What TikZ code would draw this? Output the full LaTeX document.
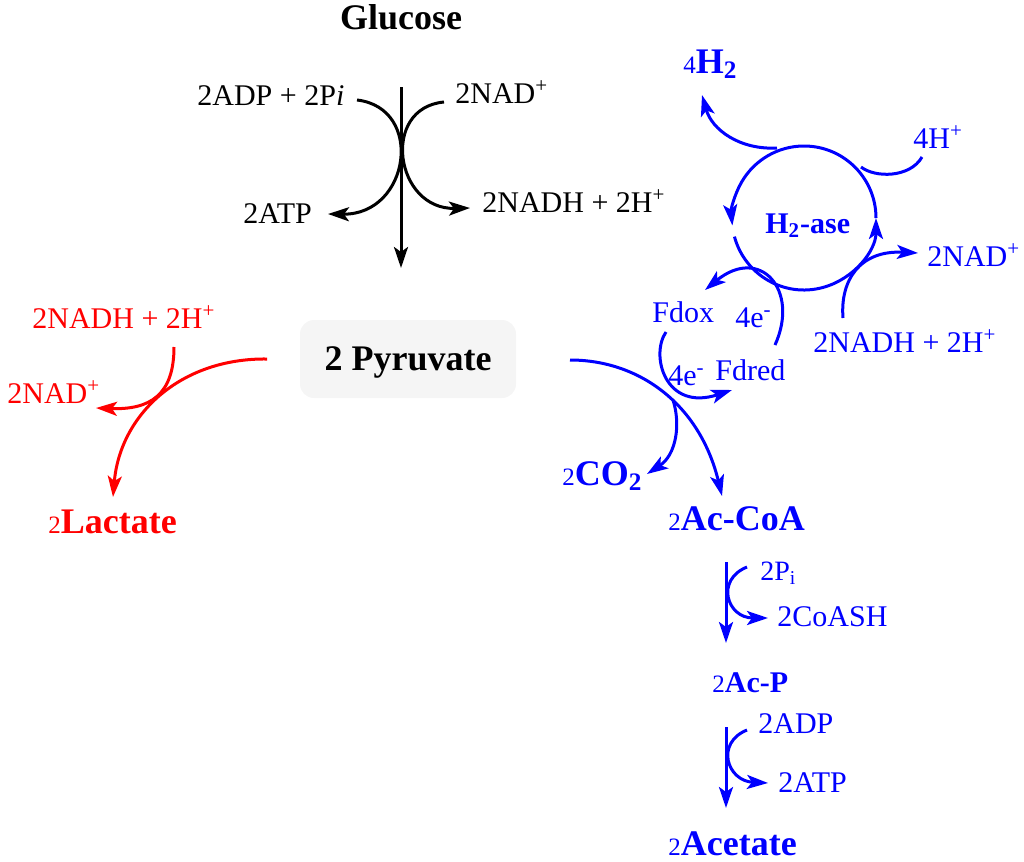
\documentclass[tikz,border=0pt]{standalone}
\usepackage{fontspec}
\setmainfont{Liberation Serif}
\usetikzlibrary{arrows.meta}
\newcommand{\coef}[1]{{\fontsize{12.5}{14}\selectfont\mdseries #1}}
\begin{document}
\begin{tikzpicture}[x=0.5pt, y=-0.5pt]
	\tikzset{lab/.style={inner sep=0pt, anchor=base west, font=\fontsize{15}{18}\selectfont},
	bl/.style={inner sep=0pt, anchor=base west, font=\fontsize{18}{21}\selectfont\bfseries},
	bm/.style={inner sep=0pt, anchor=base west, font=\fontsize{15}{18}\selectfont\bfseries},
	pbox/.style={rounded corners=7pt, fill=black!4, minimum width=108pt, minimum height=39pt, text depth=0pt},
	f/.style={-{Stealth[length=10.5pt, width=7pt, inset=2.5pt]}, line width=1.5pt},
	l/.style={line width=1.5pt}};
	\useasboundingbox (0,0) rectangle (1024,862);

	% glycolysis
	\node[bl, anchor=base] (glc) at (401,29) {Glucose};
	\node[lab] (adp) at (197,105) {2ADP + 2P\textit{i}};
	\node[lab] (nad) at (455,103) {2NAD\textsuperscript{+}};
	\node[lab] (atp) at (243,223) {2ATP};
	\node[lab] (nadh) at (482,212) {2NADH + 2H\textsuperscript{+}};
	\node[pbox, font=\fontsize{18}{21}\selectfont\bfseries] (pyr) at (408,359) {2 Pyruvate};

	\coordinate (g1) at (401,87);
	\coordinate (g2) at (401,268);
	\coordinate (adpE) at (357,100);
	\coordinate (atpE) at (328,214);
	\coordinate (nadE) at (444,102);
	\coordinate (nadhE) at (470,208);
	\draw[f] (g1) -- (g2);
	\draw[f] (adpE) .. controls (425,108) and (410,215) .. (atpE);
	\draw[f] (nadE) .. controls (380,108) and (395,210) .. (nadhE);

	% lactate branch
	\begin{scope}[red]
		\node[lab] (rnadh) at (32,328) {2NADH + 2H\textsuperscript{+}};
		\node[lab] (rnad) at (7,403) {2NAD\textsuperscript{+}};
		\node[bl] (lac) at (48,533) {\coef{2}Lactate};
		\coordinate (r1) at (267,359);
		\coordinate (lacN) at (113,497);
		\coordinate (r2) at (174,347);
		\coordinate (rnadE) at (96,408);
		\draw[f] (r1) .. controls (180,358) and (120,415) .. (lacN);
		\draw[f] (r2) .. controls (174,395) and (150,410) .. (rnadE);
	\end{scope}

	% acetate branch and hydrogenase
	\begin{scope}[blue]
		\node[bl] (h2) at (683,73) {\coef{4}H\textsubscript{2}};
		\node[lab] (hp) at (913,148) {4H\textsuperscript{+}};
		\node[bm] (ase) at (765,233) {H\textsubscript{2}-ase};
		\node[lab] (bnad) at (927,266) {2NAD\textsuperscript{+}};
		\node[lab] (bnadh) at (813,352) {2NADH + 2H\textsuperscript{+}};
		\node[lab] (fdox) at (652,322) {Fdox};
		\node[lab] (eup) at (735,327) {4e\textsuperscript{-}};
		\node[lab] (elow) at (668,385) {4e\textsuperscript{-}};
		\node[lab] (fdred) at (715,380) {Fdred};
		\node[bl] (co2) at (562,485) {\coef{2}CO\textsubscript{2}};
		\node[bl] (acoa) at (668,530) {\coef{2}Ac-CoA};
		\node[lab, font=\fontsize{14}{17}\selectfont] (pi) at (760,580) {2P\textsubscript{i}};
		\node[lab] (coash) at (777,626) {2CoASH};
		\node[bm] (acp) at (712,692) {\coef{2}Ac-P};
		\node[lab] (badp) at (758,733) {2ADP};
		\node[lab] (batp) at (778,792) {2ATP};
		\node[bl] (acet) at (668,855) {\coef{2}Acetate};

		\coordinate (cyc) at (804,218);
		\draw[f] (cyc) ++(165:72) arc[start angle=165, end angle=0, radius=72];
		\draw[f] (cyc) ++(0:72) arc[start angle=0, end angle=-186, radius=72];

		\coordinate (h2a) at (777,148);
		\coordinate (h2E) at (702,95);
		\coordinate (hpa) at (922,157);
		\coordinate (hpb) at (861,167);
		\coordinate (bn1) at (843,318);
		\coordinate (bnadW) at (918,253);
		\draw[f] (h2a) .. controls (740,150) and (712,130) .. (h2E);
		\draw[l] (hpa) .. controls (910,178) and (875,178) .. (hpb);
		\draw[f] (bn1) .. controls (840,280) and (860,250) .. (bnadW);

		\coordinate (b1) at (570,360);
		\coordinate (acoaN) at (722,496);
		\coordinate (b2) at (673,400);
		\coordinate (co2E) at (647,474);
		\coordinate (fd1) at (666,332);
		\coordinate (fd2) at (732,390);
		\coordinate (fd3) at (775,345);
		\coordinate (fd4) at (705,290);
		\draw[f] (b1) .. controls (640,360) and (700,405) .. (acoaN);
		\draw[f] (b2) .. controls (681,425) and (676,455) .. (co2E);
		\draw[f] (fd1) .. controls (650,355) and (665,412) .. (fd2);
		\draw[f] (fd3) .. controls (800,290) and (760,245) .. (fd4);

		\coordinate (v1) at (726,562);
		\coordinate (v2) at (726,643);
		\coordinate (pia) at (747,567);
		\coordinate (coashW) at (768,618);
		\coordinate (v3) at (726,727);
		\coordinate (v4) at (726,808);
		\coordinate (adpa) at (747,730);
		\coordinate (batpW) at (768,783);
		\draw[f] (v1) -- (v2);
		\draw[f] (pia) .. controls (715,580) and (727,618) .. (coashW);
		\draw[f] (v3) -- (v4);
		\draw[f] (adpa) .. controls (715,743) and (727,781) .. (batpW);
	\end{scope}
\end{tikzpicture}
\end{document}
